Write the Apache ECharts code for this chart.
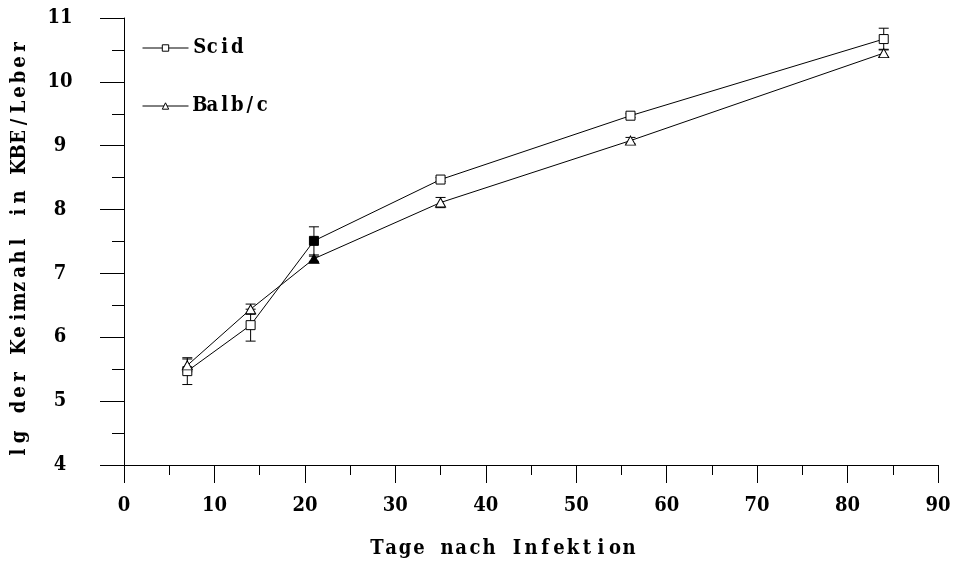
<!DOCTYPE html>
<html>
<head>
<meta charset="utf-8">
<script src="https://cdn.jsdelivr.net/npm/echarts@6/dist/echarts.min.js"></script>
<style>
  html, body { margin: 0; padding: 0; background: #fff; }
  #chart { width: 955px; height: 564px; }
</style>
</head>
<body>
<div id="chart"></div>
<script>
// Bacterial load in the liver (log10 CFU) over days after infection
const days = [7, 14, 21, 35, 56, 84];
const scidMean = [5.47, 6.19, 7.51, 8.47, 9.47, 10.67];
const scidErr = [0.21, 0.25, 0.22, 0.03, 0.03, 0.17];
const balbcMean = [5.56, 6.44, 7.23, 8.11, 9.08, 10.45];
const balbcErr = [0.10, 0.08, 0.04, 0.08, 0.05, 0.06];
const filledDay = 21;   // the day-21 markers are drawn solid
const seriesNames = ['Scid', 'Balb/c'];
const xTitle = 'Tage nach Infektion';
const yTitle = 'lg der Keimzahl in KBE/Leber';

const FONT = '"DejaVu Serif Condensed", "DejaVu Serif", serif';
const SIZE = 20;

// wide, evenly spaced lettering: every character gets its own fixed-width cell
function spaced(str, key) {
  return str.split('').map(c => '{' + key + '|' + c + '}').join('');
}
function cell(w) {
  return { width: w, align: 'center', fontFamily: FONT, fontWeight: 'bold', fontSize: SIZE, lineHeight: 20, color: '#000' };
}
const baseText = { fontFamily: FONT, fontWeight: 'bold', fontSize: SIZE, color: '#000' };

function pairs(means) { return days.map((d, i) => {
  const item = { value: [d, means[i]] };
  if (d === filledDay) item.itemStyle = { color: '#000' };
  return item;
}); }
function bars(means, errs) { return days.map((d, i) => [d, means[i] - errs[i], means[i] + errs[i]]); }

function errorBarRender(params, api) {
  const lo = api.coord([api.value(0), api.value(1)]);
  const hi = api.coord([api.value(0), api.value(2)]);
  const cap = 5;
  const style = { stroke: '#000', lineWidth: 1 };
  return {
    type: 'group',
    children: [
      { type: 'line', shape: { x1: lo[0], y1: lo[1], x2: hi[0], y2: hi[1] }, style },
      { type: 'line', shape: { x1: lo[0] - cap, y1: lo[1], x2: lo[0] + cap, y2: lo[1] }, style },
      { type: 'line', shape: { x1: hi[0] - cap, y1: hi[1], x2: hi[0] + cap, y2: hi[1] }, style }
    ]
  };
}

const chart = echarts.init(document.getElementById('chart'), null, { renderer: 'canvas' });

const axisLine = { show: true, onZero: false, lineStyle: { color: '#000', width: 1 } };

chart.setOption({
  animation: false,
  backgroundColor: '#fff',
  grid: { left: 124, right: 17, top: 18, bottom: 98, containLabel: false },
  legend: {
    data: seriesNames,
    orient: 'vertical',
    left: 142,
    top: 38,
    padding: 0,
    itemWidth: 46,
    itemHeight: 8,
    itemGap: 38,
    itemStyle: { color: '#fff', borderColor: '#000', borderWidth: 1 },
    lineStyle: { color: '#000', width: 1 },
    formatter: name => spaced(name, 'l'),
    textStyle: Object.assign({}, baseText, { rich: { l: cell(12.5) } })
  },
  xAxis: {
    type: 'value',
    min: 0, max: 90, interval: 10,
    axisLine,
    axisTick: { show: true, inside: false, length: 18, lineStyle: { color: '#000', width: 1 } },
    minorTick: { show: true, splitNumber: 2, length: 10, lineStyle: { color: '#000', width: 1 } },
    splitLine: { show: false },
    axisLabel: Object.assign({}, baseText, {
      margin: 31,
      formatter: v => spaced(String(v), 'n'),
      rich: { n: cell(12.5) }
    }),
    name: spaced(xTitle, 't'),
    nameLocation: 'middle',
    nameGap: 74,
    nameTextStyle: Object.assign({}, baseText, { padding: [0, 56, 0, 0], rich: { t: cell(14) } })
  },
  yAxis: {
    type: 'value',
    min: 4, max: 11, interval: 1,
    axisLine,
    axisTick: { show: true, inside: false, length: 24, lineStyle: { color: '#000', width: 1 } },
    minorTick: { show: true, splitNumber: 2, length: 12, lineStyle: { color: '#000', width: 1 } },
    splitLine: { show: false },
    axisLabel: Object.assign({}, baseText, {
      margin: 64,
      align: 'center',
      formatter: v => spaced(String(v), 'n'),
      rich: { n: cell(12.5) }
    }),
    name: spaced(yTitle, 't'),
    nameLocation: 'middle',
    nameGap: 94,
    nameTextStyle: Object.assign({}, baseText, { padding: [0, 16, 0, 0], rich: { t: cell(15) } })
  },
  series: [
    {
      type: 'custom', name: 'Scid SD', renderItem: errorBarRender,
      data: bars(scidMean, scidErr), encode: { x: 0, y: [1, 2] }, z: 1, silent: true
    },
    {
      type: 'custom', name: 'Balb/c SD', renderItem: errorBarRender,
      data: bars(balbcMean, balbcErr), encode: { x: 0, y: [1, 2] }, z: 1, silent: true
    },
    {
      type: 'line', name: seriesNames[0], data: pairs(scidMean),
      symbol: 'rect', symbolSize: 9, z: 3,
      itemStyle: { color: '#fff', borderColor: '#000', borderWidth: 1 },
      lineStyle: { color: '#000', width: 1 }
    },
    {
      type: 'line', name: seriesNames[1], data: pairs(balbcMean),
      symbol: 'triangle', symbolSize: [10, 9], z: 3,
      itemStyle: { color: '#fff', borderColor: '#000', borderWidth: 1 },
      lineStyle: { color: '#000', width: 1 }
    }
  ]
});
</script>
</body>
</html>
